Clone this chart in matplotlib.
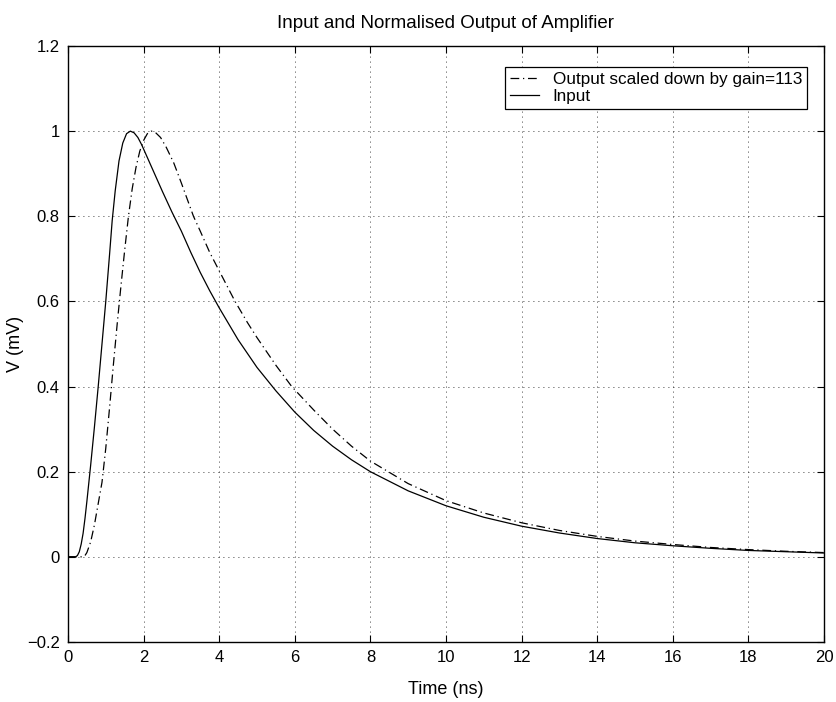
import matplotlib
matplotlib.use('Agg')
from matplotlib import pyplot as plt

# values (time in ns, V normalised)
t_in = [0, 0.2, 0.25, 0.3, 0.35, 0.4, 0.45, 0.5, 0.6, 0.7, 0.8, 0.9, 1.0, 1.1, 1.17,
        1.25, 1.35, 1.45, 1.55, 1.65, 1.75, 1.85, 1.95, 2.05, 2.2, 2.35, 2.5, 2.75,
        3.0, 3.25, 3.5, 3.75, 4.0, 4.5, 5.0, 5.5, 6.0, 6.5, 7.0, 7.5, 8.0, 9.0, 10.0,
        11.0, 12.0, 13.0, 14.0, 15.0, 16.0, 17.0, 18.0, 19.0, 20.0]
v_in = [0, 0, 0.003, 0.012, 0.03, 0.055, 0.09, 0.13, 0.215, 0.305, 0.4, 0.5, 0.6, 0.71, 0.79,
        0.86, 0.93, 0.972, 0.994, 1.0, 0.996, 0.985, 0.968, 0.948, 0.918, 0.888, 0.858, 0.81,
        0.765, 0.715, 0.668, 0.625, 0.585, 0.51, 0.445, 0.39, 0.34, 0.297, 0.26, 0.228, 0.2, 0.155, 0.12,
        0.093, 0.072, 0.056, 0.043, 0.033, 0.026, 0.02, 0.015, 0.012, 0.009]

t_out = [0, 0.4, 0.45, 0.5, 0.6, 0.7, 0.8, 0.9, 1.0, 1.1, 1.2, 1.3, 1.4, 1.5, 1.6,
         1.7, 1.8, 1.9, 2.0, 2.1, 2.2, 2.3, 2.45, 2.6, 2.8, 3.0, 3.32, 3.5, 3.75, 4.0,
         4.42, 4.75, 5.0, 5.5, 5.92, 6.5, 7.0, 7.5, 8.0, 9.0, 10.0, 11.0, 12.0, 13.0,
         14.0, 15.0, 16.0, 17.0, 18.0, 19.0, 20.0]
v_out = [0, 0, 0.003, 0.01, 0.035, 0.075, 0.125, 0.175, 0.255, 0.35, 0.45, 0.545, 0.635, 0.72, 0.8,
         0.865, 0.915, 0.953, 0.978, 0.994, 1.0, 0.998, 0.985, 0.962, 0.925, 0.878, 0.8, 0.765, 0.715, 0.672,
         0.6, 0.55, 0.515, 0.45, 0.4, 0.345, 0.3, 0.26, 0.225, 0.172, 0.132, 0.103, 0.08, 0.062,
         0.048, 0.037, 0.029, 0.022, 0.017, 0.013, 0.01]

x_ticks = list(range(0, 21, 2))
y_ticks = [-0.2, 0, 0.2, 0.4, 0.6, 0.8, 1, 1.2]
y_labels = ['\u22120.2', '0', '0.2', '0.4', '0.6', '0.8', '1', '1.2']

plt.rcParams['font.family'] = ['Liberation Sans', 'DejaVu Sans']
plt.rcParams['font.size'] = 12

fig = plt.figure(figsize=(8.37, 7.02), dpi=100)
ax = fig.add_axes([0.0812, 0.0855, 0.9033, 0.849])

ax.plot(t_out, v_out, color='black', lw=0.9, linestyle=(0, (7, 3, 1, 3)),
        label='Output scaled down by gain=113')
ax.plot(t_in, v_in, color='black', lw=0.9, label='Input')

ax.set_xlim(0, 20)
ax.set_ylim(-0.2, 1.2)
ax.set_xticks(x_ticks)
ax.set_yticks(y_ticks)
ax.set_yticklabels(y_labels)
ax.grid(True, color='black', linestyle=(0, (1, 5)), linewidth=0.6)
ax.tick_params(direction='in', length=5, width=0.8, top=True, right=True, pad=6, labelsize=12)
for s in ax.spines.values():
    s.set_linewidth(1.0)

ax.set_title('Input and Normalised Output of Amplifier', fontsize=13.5, pad=13)
ax.set_xlabel('Time (ns)', fontsize=13, labelpad=11)
ax.set_ylabel('V (mV)', fontsize=13, labelpad=2)

leg = ax.legend(loc='upper right', bbox_to_anchor=(0.9775, 0.9648), borderaxespad=0,
                fancybox=False, framealpha=1, edgecolor='black', handlelength=1.7,
                borderpad=0.3, labelspacing=0.1, fontsize=12.3)
leg.get_frame().set_linewidth(0.9)

plt.savefig('out.png', dpi=100)
